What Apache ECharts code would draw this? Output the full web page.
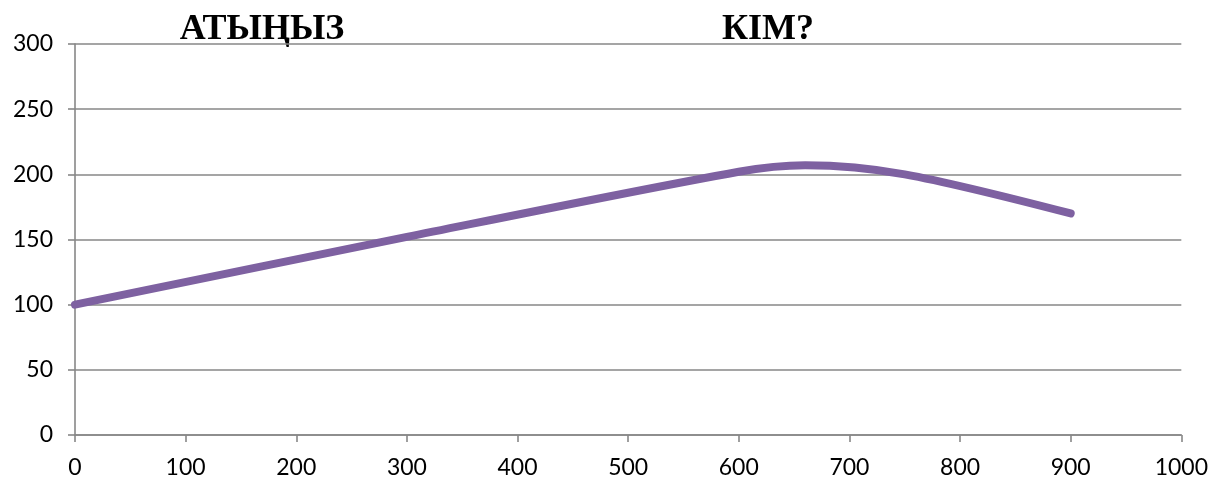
<!DOCTYPE html>
<html>
<head>
<meta charset="utf-8">
<script src="https://cdn.jsdelivr.net/npm/echarts@6/dist/echarts.min.js"></script>
<style>
  html, body { margin: 0; padding: 0; background: #fff; }
  #chart { width: 1211px; height: 481px; }
</style>
</head>
<body>
<div id="chart"></div>
<script>
// Curve points (x, y)
const xValues = [0, 300, 600, 660, 750, 900];
const yValues = [100, 152, 202, 207, 200, 170];

// Axis ranges and steps
const xMin = 0, xMax = 1000, xStep = 100;
const yMin = 0, yMax = 300, yStep = 50;

// Heading words
const headings = ['АТЫҢЫЗ', 'КІМ?'];

const gray = '#878787';
const lineW = 1.6;
const labelFont = 'Lato, "Open Sans", sans-serif';
const headingFont = 'bold 36px "Liberation Serif", "DejaVu Serif", serif';

const chart = echarts.init(document.getElementById('chart'), null, { renderer: 'canvas' });

chart.setOption({
  animation: false,
  backgroundColor: '#ffffff',
  grid: { left: 75, right: 29, top: 44, bottom: 46 },
  xAxis: {
    type: 'value',
    min: xMin, max: xMax, interval: xStep,
    axisLine: { show: true, lineStyle: { color: gray, width: lineW } },
    axisTick: { show: true, length: 7, lineStyle: { color: gray, width: lineW } },
    splitLine: { show: false },
    axisLabel: { color: '#000', fontFamily: labelFont, fontSize: 23, margin: 21, formatter: v => String(v) }
  },
  yAxis: {
    type: 'value',
    min: yMin, max: yMax, interval: yStep,
    axisLine: { show: true, lineStyle: { color: gray, width: lineW } },
    axisTick: { show: true, length: 7, lineStyle: { color: gray, width: lineW } },
    splitLine: { show: true, lineStyle: { color: gray, width: lineW } },
    axisLabel: { color: '#000', fontFamily: labelFont, fontSize: 23, margin: 22, formatter: v => String(v) }
  },
  series: [{
    type: 'line',
    data: xValues.map((x, i) => [x, yValues[i]]),
    smooth: 0.3,
    showSymbol: false,
    lineStyle: { color: '#7E61A1', width: 8, cap: 'round', join: 'round' }
  }],
  graphic: [
    {
      type: 'text', x: 262, y: 30,
      style: { text: headings[0], fill: '#000', font: headingFont, textAlign: 'center', textVerticalAlign: 'middle' }
    },
    {
      type: 'text', x: 768, y: 30,
      style: { text: headings[1], fill: '#000', font: headingFont, textAlign: 'center', textVerticalAlign: 'middle' }
    }
  ]
});
</script>
</body>
</html>
